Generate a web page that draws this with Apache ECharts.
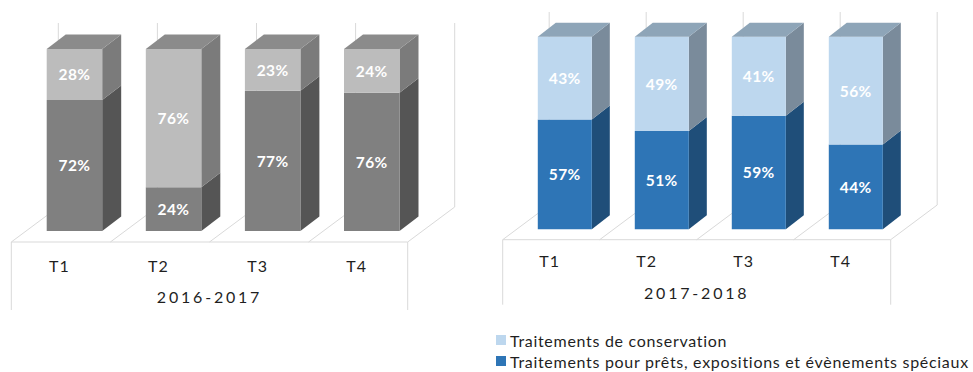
<!DOCTYPE html>
<html><head><meta charset="utf-8">
<style>
html,body{margin:0;padding:0;background:#fff}
#c{width:973px;height:372px}
svg text{letter-spacing:0.7px}
svg text[style*="16.01px"]{letter-spacing:2.8px}
svg text[style*="16.02px"]{letter-spacing:1px}
svg text[style*="15.5px"]{letter-spacing:0.4px}
</style>
<script src="https://cdn.jsdelivr.net/npm/echarts@6/dist/echarts.min.js"></script>
</head><body><div id="c"></div>
<script>
const categories = ['T1','T2','T3','T4'];
const periods = ['2016-2017','2017-2018'];
const nameConservation = 'Traitements de conservation';
const nameSpecial = 'Traitements pour prêts, expositions et évènements spéciaux';
const special2016 = [72,24,77,76];
const conservation2016 = [28,76,23,24];
const special2017 = [57,51,59,44];
const conservation2017 = [43,49,41,56];
const FONT = 'Lato';

const panels = [
 {grid:{left:11.3,width:396.4,top:49,height:182}, special:special2016, cons:conservation2016, period:periods[0],
  nm:[nameSpecial+' '+periods[0], nameConservation+' '+periods[0]],
  barShift:13.6,barRatio:0.56,dx:19,dy:-14.5,floorGap:11,fx:47,fy:-35,wallUp:26,drop:68,margin:26,nameGap:57,
  dark:{front:'#808080',side:'#555555'},light:{front:'#bcbcbc',side:'#7b7b7b',top:'#8b8b8b'}},
 {grid:{left:502.7,width:388,top:36.7,height:192.6}, special:special2017, cons:conservation2017, period:periods[1],
  nm:[nameSpecial, nameConservation],
  barShift:13.6,barRatio:0.557,dx:18,dy:-14,floorGap:10.4,fx:46.5,fy:-34.7,wallUp:24.7,drop:65,margin:23,nameGap:55,
  dark:{front:'#2e75b6',side:'#1f4e79'},light:{front:'#bdd7ee',side:'#7a8b9b',top:'#8ea5b8'}}
];

function frameItem(p){
  return function(params, api){
    const cs = params.coordSys, band = api.size([1,0])[0];
    const y0 = cs.y+cs.height+p.floorGap, kids=[];
    const st={stroke:'#d9d9d9',lineWidth:1,fill:null};
    const line=(a,b,c,d)=>kids.push({type:'line',shape:{x1:a,y1:b,x2:c,y2:d},style:st,silent:true});
    line(cs.x,y0,cs.x+cs.width,y0);
    line(cs.x,y0,cs.x,y0+p.drop);
    line(cs.x+cs.width,y0,cs.x+cs.width,y0+p.drop);
    for(let i=0;i<=categories.length;i++){
      const x=cs.x+i*band;
      line(x,y0,x+p.fx,y0+p.fy);
      line(x+p.fx,y0+p.fy,x+p.fx,cs.y-p.wallUp);
    }
    return {type:'group',children:kids};
  };
}
function barItem(p,col,isTop){
  return function(params, api){
    const c=api.value(0), lo=api.value(1), hi=api.value(2);
    const a=api.coord([c,lo]), b=api.coord([c,hi]);
    const band=api.size([1,0])[0], w=band*p.barRatio;
    const x1=a[0]+p.barShift-w/2, x2=x1+w, yb=a[1], yt=b[1], dx=p.dx, dy=p.dy;
    const kids=[
     {type:'polygon',shape:{points:[[x2,yb],[x2+dx,yb+dy],[x2+dx,yt+dy],[x2,yt]]},style:{fill:col.side}},
     {type:'rect',shape:{x:x1,y:yt,width:w,height:yb-yt},style:{fill:col.front}}
    ];
    if(isTop) kids.push({type:'polygon',shape:{points:[[x1,yt],[x2,yt],[x2+dx,yt+dy],[x1+dx,yt+dy]]},style:{fill:col.top}});
    kids.push({type:'text',z2:10,style:{text:(hi-lo)+'%',x:(x1+x2)/2,y:(yt+yb)/2,align:'center',verticalAlign:'middle',fill:'#fff',font:'bold 15.5px '+FONT}});
    return {type:'group',children:kids};
  };
}
const grid=[],xAxis=[],yAxis=[],series=[];
panels.forEach((p,i)=>{
  grid.push(p.grid);
  xAxis.push({type:'category',gridIndex:i,data:categories,axisLine:{show:false},axisTick:{show:false},
    axisLabel:{margin:p.margin,color:'#1f1f1f',fontFamily:FONT,fontSize:16.02,interval:0,padding:[0,3,0,0]},
    name:p.period,nameLocation:'middle',nameGap:p.nameGap,nameTextStyle:{color:'#1f1f1f',fontFamily:FONT,fontSize:16.01}});
  yAxis.push({type:'value',gridIndex:i,min:0,max:100,show:false});
  series.push({type:'custom',name:'frame'+i,xAxisIndex:i,yAxisIndex:i,z:1,silent:true,renderItem:frameItem(p),data:[[0]],encode:{x:0}});
  series.push({type:'custom',name:p.nm[0],xAxisIndex:i,yAxisIndex:i,z:2,itemStyle:{color:p.dark.front},
    renderItem:barItem(p,p.dark,false),encode:{x:0,y:[1,2]},
    data:p.special.map((v,k)=>[k,0,v])});
  series.push({type:'custom',name:p.nm[1],xAxisIndex:i,yAxisIndex:i,z:2,itemStyle:{color:p.light.front},
    renderItem:barItem(p,p.light,true),encode:{x:0,y:[1,2]},
    data:p.cons.map((v,k)=>[k,p.special[k],p.special[k]+v])});
});
const chart=echarts.init(document.getElementById('c'),null,{renderer:'svg'});
chart.setOption({animation:false,backgroundColor:'#fff',grid,xAxis,yAxis,series,
  legend:{orient:'vertical',left:496,top:332,itemWidth:10,itemHeight:10,itemGap:5,icon:'rect',
    selectedMode:false,padding:0,data:[nameConservation,nameSpecial],
    textStyle:{color:'#1f1f1f',fontFamily:FONT,fontSize:16,padding:[0,0,0,-1]}}
});
</script></body></html>
